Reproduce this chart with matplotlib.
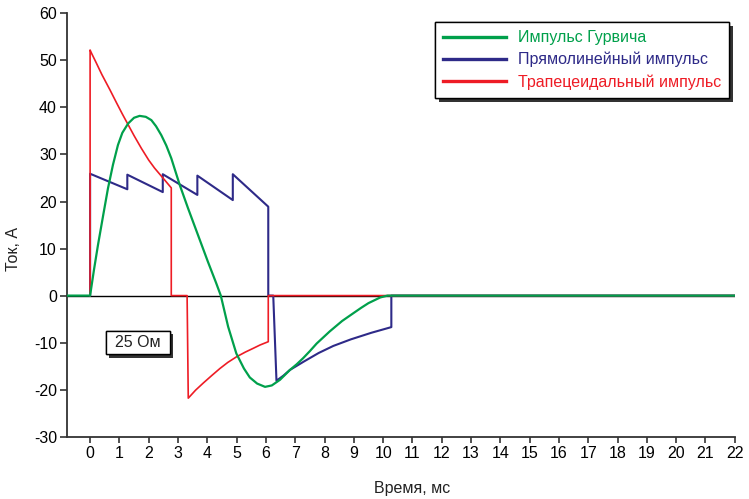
import matplotlib
matplotlib.use("Agg")
import matplotlib.pyplot as plt
from matplotlib.lines import Line2D
from matplotlib.patches import Rectangle
import matplotlib.patheffects as pe

plt.rcParams['font.family'] = ['Liberation Sans', 'DejaVu Sans']
plt.rcParams['axes.unicode_minus'] = False

# ---- data (time in ms, current in A) ----
gurvich_t = [-0.8, 0, 0.13, 0.27, 0.45, 0.61, 0.78, 0.95, 1.1, 1.3, 1.5, 1.69, 1.9, 2.09,
             2.25, 2.43, 2.6, 2.77, 3.06, 3.34, 3.68, 4.02, 4.3, 4.46, 4.71, 4.99, 5.25,
             5.45, 5.7, 5.97, 6.2, 6.48, 6.82, 7.05, 7.27, 7.5, 7.73, 8.18, 8.6, 8.97,
             9.25, 9.5, 9.9, 10.15, 22]
gurvich_i = [0, 0, 5.4, 10.8, 17.2, 22.8, 27.8, 32.0, 34.6, 36.6, 37.8, 38.2, 38.0, 37.3,
             36.0, 34.1, 31.9, 29.2, 23.5, 18.6, 12.9, 7.2, 2.7, 0, -6.6, -12.3, -15.5,
             -17.4, -18.7, -19.4, -19.1, -17.9, -15.8, -14.6, -13.3, -11.8, -10.2, -7.6,
             -5.4, -3.8, -2.6, -1.6, -0.4, 0, 0]

rect_t = [0, 0, 1.27, 1.27, 2.48, 2.48, 3.66, 3.66, 4.87, 4.87, 6.08, 6.08, 6.25, 6.36,
          6.6, 6.82, 7.3, 7.8, 8.3, 8.9, 9.6, 10.28, 10.28, 22]
rect_i = [0, 25.9, 22.6, 25.7, 22.0, 25.8, 21.4, 25.5, 20.3, 25.8, 18.9, 0, 0, -18.1,
          -17.0, -15.8, -14.0, -12.2, -10.7, -9.3, -7.9, -6.7, 0, 0]

trap_t = [0, 0, 0.05, 0.2, 0.4, 0.68, 0.9, 1.1, 1.3, 1.5, 1.75, 2.0, 2.2, 2.54, 2.77, 2.77,
          3.31, 3.35, 3.6, 3.86, 4.15, 4.43, 4.7, 5.0, 5.3, 5.57, 5.8, 6.08, 6.08, 22]
trap_i = [0, 52.2, 51.5, 49.6, 47.0, 43.7, 41.0, 38.6, 36.3, 34.0, 31.3, 28.8, 27.1, 24.6,
          22.9, 0, 0, -21.8, -20.1, -18.6, -17.0, -15.5, -14.2, -13.0, -12.0, -11.2,
          -10.5, -9.8, 0, 0]

labels = ["Импульс Гурвича", "Прямолинейный импульс", "Трапецеидальный импульс"]
colors = ["#00a04b", "#2e2a88", "#ee1c25"]
x_ticks = list(range(0, 23))
y_ticks = list(range(-30, 61, 10))

fig = plt.figure(figsize=(7.49, 4.99), dpi=100)
ax = fig.add_axes([0.089, 0.1248, 0.892, 0.8485])

ax.axhline(0, color='black', lw=1.0, zorder=1)
ax.plot(rect_t, rect_i, color=colors[1], lw=1.5, zorder=2)
ax.plot(trap_t, trap_i, color=colors[2], lw=1.2, zorder=3)
ax.plot(gurvich_t, gurvich_i, color=colors[0], lw=1.6, zorder=4)

ax.set_xlim(-0.8, 22)
ax.set_ylim(-30, 60)
ax.set_xticks(x_ticks)
ax.set_yticks(y_ticks)
ax.tick_params(axis='x', labelsize=11.5, length=4, width=1.2, color='#333333', pad=3)
ax.tick_params(axis='y', labelsize=11.5, length=5, width=1.2, color='#333333', pad=2)
for s in ['top', 'right']:
    ax.spines[s].set_visible(False)
for s in ['left', 'bottom']:
    ax.spines[s].set_color('#333333')
    ax.spines[s].set_linewidth(1.3)

ax.set_xlabel("Время, мс", fontsize=11.5, color='#222222')
ax.set_ylabel("Ток, А", fontsize=11.5, color='#222222')
ax.xaxis.set_label_coords(0.517, -0.105)
ax.yaxis.set_label_coords(-0.068, 0.443)

handles = [Line2D([], [], color=c, lw=2.4) for c in colors]
leg = ax.legend(handles, labels, loc='upper right', bbox_to_anchor=(0.991, 0.979),
                fontsize=11.5, handlelength=3.9, handletextpad=0.75, labelspacing=0.42,
                borderpad=0.5, fancybox=False, frameon=True, labelcolor=colors,
                borderaxespad=0)
fr = leg.get_frame()
fr.set_edgecolor('black')
fr.set_linewidth(1.0)
fr.set_alpha(1)
fr.set_path_effects([pe.withSimplePatchShadow(offset=(3, -3), shadow_rgbFace='#333333', alpha=1.0),
                     pe.Normal()])

box = Rectangle((0.0584, 0.1953), 0.0962, 0.055, transform=ax.transAxes,
                facecolor='white', edgecolor='black', lw=1.0, zorder=6)
box.set_path_effects([pe.withSimplePatchShadow(offset=(2.5, -2.5), shadow_rgbFace='#333333', alpha=1.0),
                      pe.Normal()])
ax.add_patch(box)
ax.text(0.0584 + 0.0962 / 2, 0.1953 + 0.055 / 2, "25 Ом", transform=ax.transAxes,
        ha='center', va='center', fontsize=11.5, color='#222222', zorder=7)

fig.savefig("out.png", dpi=100)
